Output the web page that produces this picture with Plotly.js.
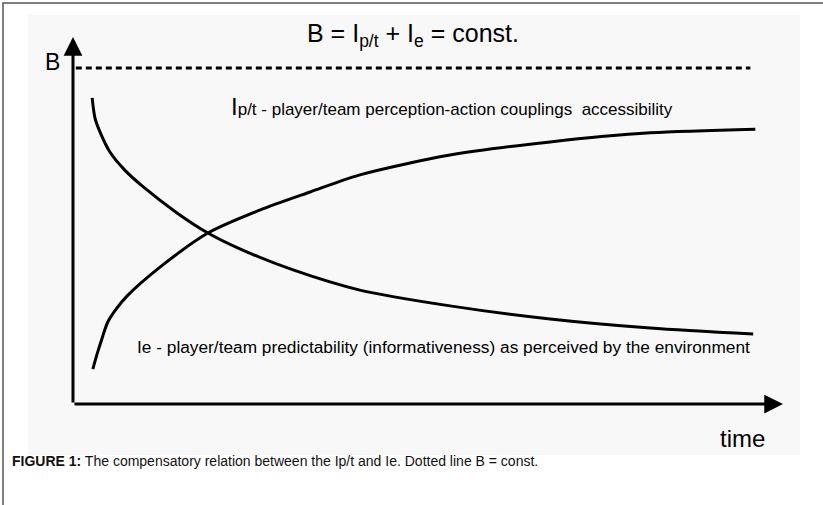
<!DOCTYPE html>
<html>
<head>
<meta charset="utf-8">
<script src="https://cdn.plot.ly/plotly-3.0.1.min.js"></script>
<style>html,body{margin:0;padding:0;background:#fff;}#chart{width:823px;height:505px;}</style>
</head>
<body>
<div id="chart"></div>
<script>
// ---- data (time in arbitrary units, value as fraction of B) ----
const ipTime  = [0.28, 0.34, 0.41, 0.49, 0.61, 0.76, 1.23, 1.90, 2.63, 3.34, 4.04, 5.31, 6.72, 8.13, 9.61];
const ipValue = [0.104, 0.149, 0.196, 0.244, 0.283, 0.321, 0.408, 0.509, 0.577, 0.631, 0.682, 0.741, 0.780, 0.807, 0.818];
const ieTime  = [0.27, 0.31, 0.38, 0.52, 0.73, 0.99, 1.47, 1.90, 2.39, 3.10, 4.04, 5.31, 6.72, 8.13, 9.58];
const ieValue = [0.911, 0.851, 0.810, 0.750, 0.696, 0.646, 0.568, 0.509, 0.458, 0.399, 0.339, 0.292, 0.253, 0.226, 0.208];
const bLevel = 1.0;
const bTime = [0.04, 9.54];
const axisTimeMax = 10.0;
const axisValueMax = 1.092;

const titleText = 'B = I<sub>p/t</sub> + I<sub>e</sub> = const.';
const ipLabel = '<span style="font-size:24px">I</span>p/t - player/team perception-action couplings  accessibility';
const ieLabel = 'Ie - player/team predictability (informativeness) as perceived by the environment';
const captionText = '<b>FIGURE 1:</b> The compensatory relation between the Ip/t and Ie. Dotted line B = const.';

const W = 823, H = 505;
const px = v => v / W;
const py = v => 1 - v / H;

const lineStyle = {color: '#000', width: 3, shape: 'spline', smoothing: 0.8};
const traces = [
  {x: ipTime, y: ipValue, mode: 'lines', line: lineStyle, hoverinfo: 'skip'},
  {x: ieTime, y: ieValue, mode: 'lines', line: lineStyle, hoverinfo: 'skip'},
  {x: bTime, y: [bLevel, bLevel], mode: 'lines', line: {color: '#000', width: 3, dash: '6px,4px'}, hoverinfo: 'skip'}
];

const sans = 'Liberation Sans, Arial, sans-serif';

const layout = {
  width: W, height: H,
  margin: {l: 0, r: 0, t: 0, b: 0},
  paper_bgcolor: '#fff', plot_bgcolor: 'rgba(0,0,0,0)',
  showlegend: false,
  xaxis: {range: [-1.028, 10.563], visible: false, fixedrange: true},
  yaxis: {range: [-0.3006, 1.2024], visible: false, fixedrange: true},
  shapes: [
    {type: 'rect', xref: 'paper', yref: 'paper', x0: px(28), x1: px(800), y0: py(455), y1: py(15),
     fillcolor: '#f8f8f8', line: {width: 0}, layer: 'below'},
    {type: 'path', xref: 'paper', yref: 'paper',
     path: 'M ' + px(3) + ' 0 L ' + px(3) + ' ' + py(3) + ' L 1 ' + py(3),
     line: {color: '#555', width: 1.5}}
  ],
  annotations: [
    // axes arrows
    {x: 0, y: axisValueMax, ax: 0, ay: 0, xref: 'x', yref: 'y', axref: 'x', ayref: 'y', text: '',
     showarrow: true, arrowhead: 2, arrowsize: 1.25, arrowwidth: 3, arrowcolor: '#000'},
    {x: axisTimeMax, y: 0, ax: 0, ay: 0, xref: 'x', yref: 'y', axref: 'x', ayref: 'y', text: '',
     showarrow: true, arrowhead: 2, arrowsize: 1.25, arrowwidth: 3, arrowcolor: '#000'},
    // title
    {xref: 'paper', yref: 'paper', x: px(413), y: py(35), xanchor: 'center', yanchor: 'middle', showarrow: false,
     text: titleText, font: {family: sans, size: 25, color: '#000'}},
    // B label
    {xref: 'paper', yref: 'paper', x: px(52), y: py(62), xanchor: 'center', yanchor: 'middle', showarrow: false,
     text: 'B', font: {family: sans, size: 23, color: '#000'}},
    // curve labels
    {xref: 'paper', yref: 'paper', x: px(229), y: py(107), xanchor: 'left', yanchor: 'middle', showarrow: false,
     text: ipLabel, font: {family: sans, size: 17, color: '#000'}},
    {xref: 'paper', yref: 'paper', x: px(135), y: py(347), xanchor: 'left', yanchor: 'middle', showarrow: false,
     text: ieLabel, font: {family: sans, size: 17.3, color: '#000'}},
    // time label
    {xref: 'paper', yref: 'paper', x: px(742), y: py(438), xanchor: 'center', yanchor: 'middle', showarrow: false,
     text: 'time', font: {family: sans, size: 24, color: '#000'}},
    // caption
    {xref: 'paper', yref: 'paper', x: px(10), y: py(461), xanchor: 'left', yanchor: 'middle', showarrow: false,
     text: captionText, font: {family: sans, size: 14, color: '#111'}}
  ]
};

Plotly.newPlot('chart', traces, layout, {displayModeBar: false, staticPlot: true});
</script>
</body>
</html>
